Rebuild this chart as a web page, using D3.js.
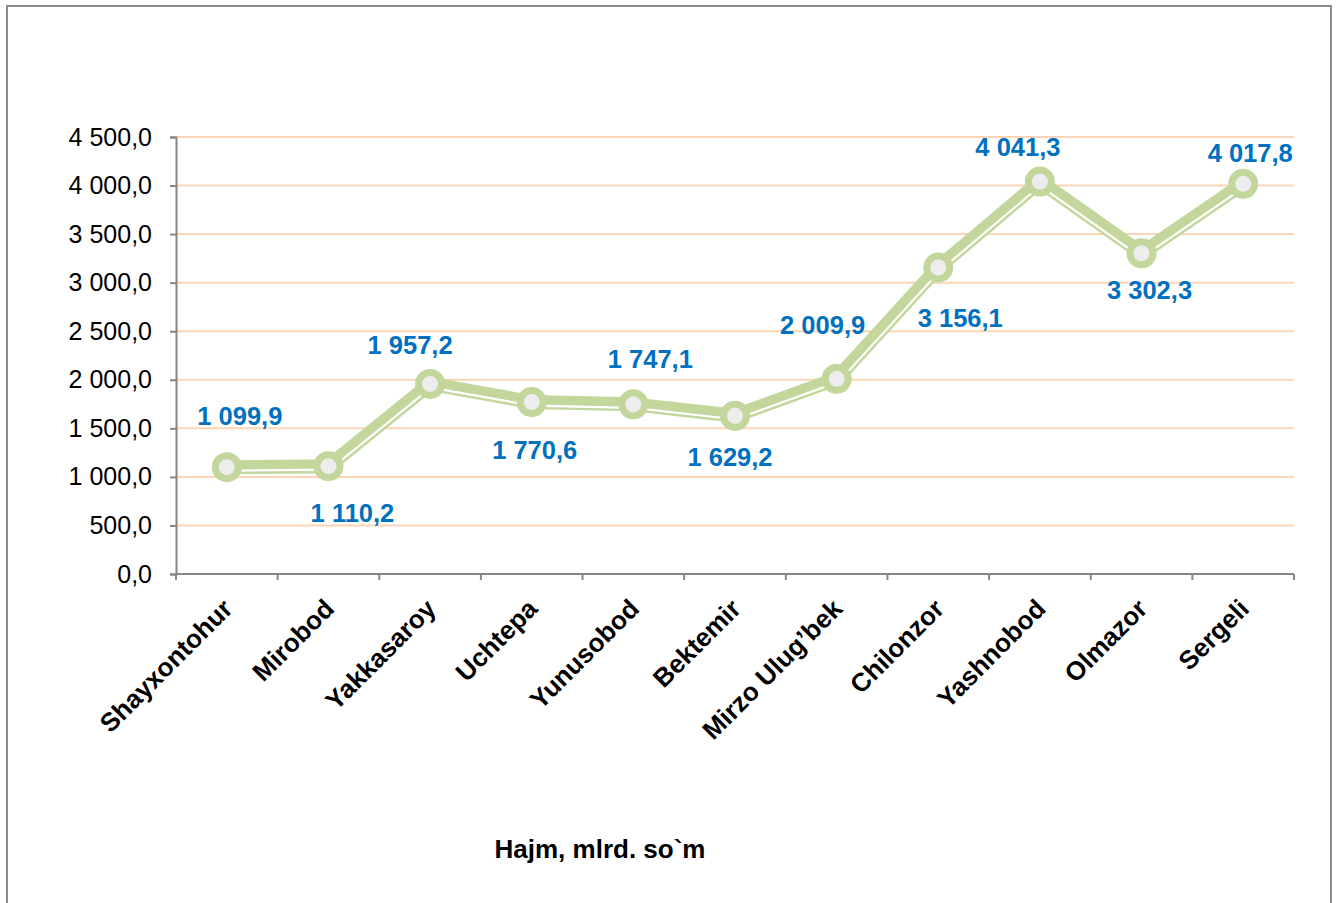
<!DOCTYPE html>
<html>
<head>
<meta charset="utf-8">
<script src="https://cdn.jsdelivr.net/npm/d3@7"></script>
<style>
  html, body { margin: 0; padding: 0; background: #fff; }
  svg { display: block; }
  text { font-family: "Liberation Sans", Arial, sans-serif; }
</style>
</head>
<body>
<svg id="chart" width="1336" height="903"></svg>
<script>
// ---- data ----
const categories = ["Shayxontohur", "Mirobod", "Yakkasaroy", "Uchtepa", "Yunusobod", "Bektemir",
  "Mirzo Ulug’bek", "Chilonzor", "Yashnobod", "Olmazor", "Sergeli"];
const values = [1099.9, 1110.2, 1957.2, 1770.6, 1747.1, 1629.2, 2009.9, 3156.1, 4041.3, 3302.3, 4017.8];
const yTicks = [0, 500, 1000, 1500, 2000, 2500, 3000, 3500, 4000, 4500];
const seriesName = "Hajm, mlrd. so`m";

// ---- layout (label placement, not data) ----
const labelDx = [13, 24, -20, 3, 17, -5, -14, 22, -22, 8, 7];
const labelDy = [-51, 47, -39, 48, -45, 41, -54, 50, -35, 37, -31];

const fmt = v => {
  const s = v.toFixed(1).split(".");
  const int = s[0].replace(/\B(?=(\d{3})+(?!\d))/g, " ");
  return int + "," + s[1];
};

const svg = d3.select("#chart");

// frame
svg.append("rect").attr("x", 7).attr("y", 6).attr("width", 1324).attr("height", 910)
  .attr("fill", "#fff").attr("stroke", "#8c8c8c").attr("stroke-width", 2);

const x = d3.scaleBand().domain(categories).range([176, 1294]);
const y = d3.scaleLinear().domain([0, 4500]).range([574, 137]);

// gridlines
svg.append("g").selectAll("line").data(yTicks.filter(d => d > 0)).join("line")
  .attr("x1", 176).attr("x2", 1294)
  .attr("y1", d => y(d)).attr("y2", d => y(d))
  .attr("stroke", "#fbd5b5").attr("stroke-width", 2);

// y axis
const yAxis = d3.axisLeft(y).tickValues(yTicks).tickSize(6).tickPadding(18).tickFormat(fmt);
const gy = svg.append("g").attr("transform", "translate(176,0)").call(yAxis);
gy.select(".domain").attr("stroke", "#868686").attr("stroke-width", 2);
gy.selectAll(".tick line").attr("stroke", "#868686").attr("stroke-width", 2);
gy.selectAll(".tick text").attr("fill", "#000").style("font-size", "25px")
  .style("font-family", "'Liberation Sans', Arial, sans-serif");

// x axis
const gx = svg.append("g").attr("transform", "translate(0,574)");
gx.append("line").attr("x1", 176).attr("x2", 1294).attr("y1", 0).attr("y2", 0)
  .attr("stroke", "#868686").attr("stroke-width", 2);
const boundaries = categories.map(c => x(c)).concat([x(categories[categories.length - 1]) + x.bandwidth()]);
gx.selectAll("line.tk").data(boundaries).join("line").attr("class", "tk")
  .attr("x1", d => d).attr("x2", d => d).attr("y1", 0).attr("y2", 6)
  .attr("stroke", "#868686").attr("stroke-width", 2);

// category labels
svg.append("g").selectAll("text").data(categories).join("text")
  .attr("transform", d => `translate(${x(d) + x.bandwidth() / 2 + 1},${604}) rotate(-45)`)
  .attr("text-anchor", "end")
  .attr("dominant-baseline", "central")
  .attr("font-size", "26px").attr("font-weight", "bold").attr("fill", "#000")
  .text(d => d);

// line
const pts = categories.map((c, i) => [x(c) + x.bandwidth() / 2, y(values[i])]);
svg.append("path").attr("d", d3.line()(pts))
  .attr("fill", "none").attr("stroke", "#c3d69b").attr("stroke-width", 14)
  .attr("stroke-linejoin", "round");
// inner white stripe (compound line), offset perpendicular below the centre
const off = 3.5;
const segs = d3.pairs(pts).map(([a, b]) => {
  const dx = b[0] - a[0], dy = b[1] - a[1], L = Math.hypot(dx, dy);
  const nx = -dy / L * off, ny = dx / L * off;
  return [[a[0] + nx, a[1] + ny], [b[0] + nx, b[1] + ny]];
});
svg.append("g").selectAll("line").data(segs).join("line")
  .attr("x1", d => d[0][0]).attr("y1", d => d[0][1])
  .attr("x2", d => d[1][0]).attr("y2", d => d[1][1])
  .attr("stroke", "#ffffff").attr("stroke-width", 2.2);

// markers
svg.append("g").selectAll("circle").data(pts).join("circle")
  .attr("cx", d => d[0]).attr("cy", d => d[1]).attr("r", 11.5)
  .attr("fill", "#ededed").attr("stroke", "#c3d69b").attr("stroke-width", 7);

// data labels
svg.append("g").selectAll("text").data(values).join("text")
  .attr("x", (d, i) => pts[i][0] + labelDx[i])
  .attr("y", (d, i) => pts[i][1] + labelDy[i])
  .attr("text-anchor", "middle").attr("dominant-baseline", "central")
  .attr("font-size", "25.5px").attr("font-weight", "bold").attr("fill", "#0070c0")
  .text(d => fmt(d));

// series name (legend)
svg.append("text").attr("x", 600).attr("y", 849)
  .attr("text-anchor", "middle").attr("dominant-baseline", "central")
  .attr("font-size", "26px").attr("font-weight", "bold").attr("fill", "#000")
  .text(seriesName);
</script>
</body>
</html>
